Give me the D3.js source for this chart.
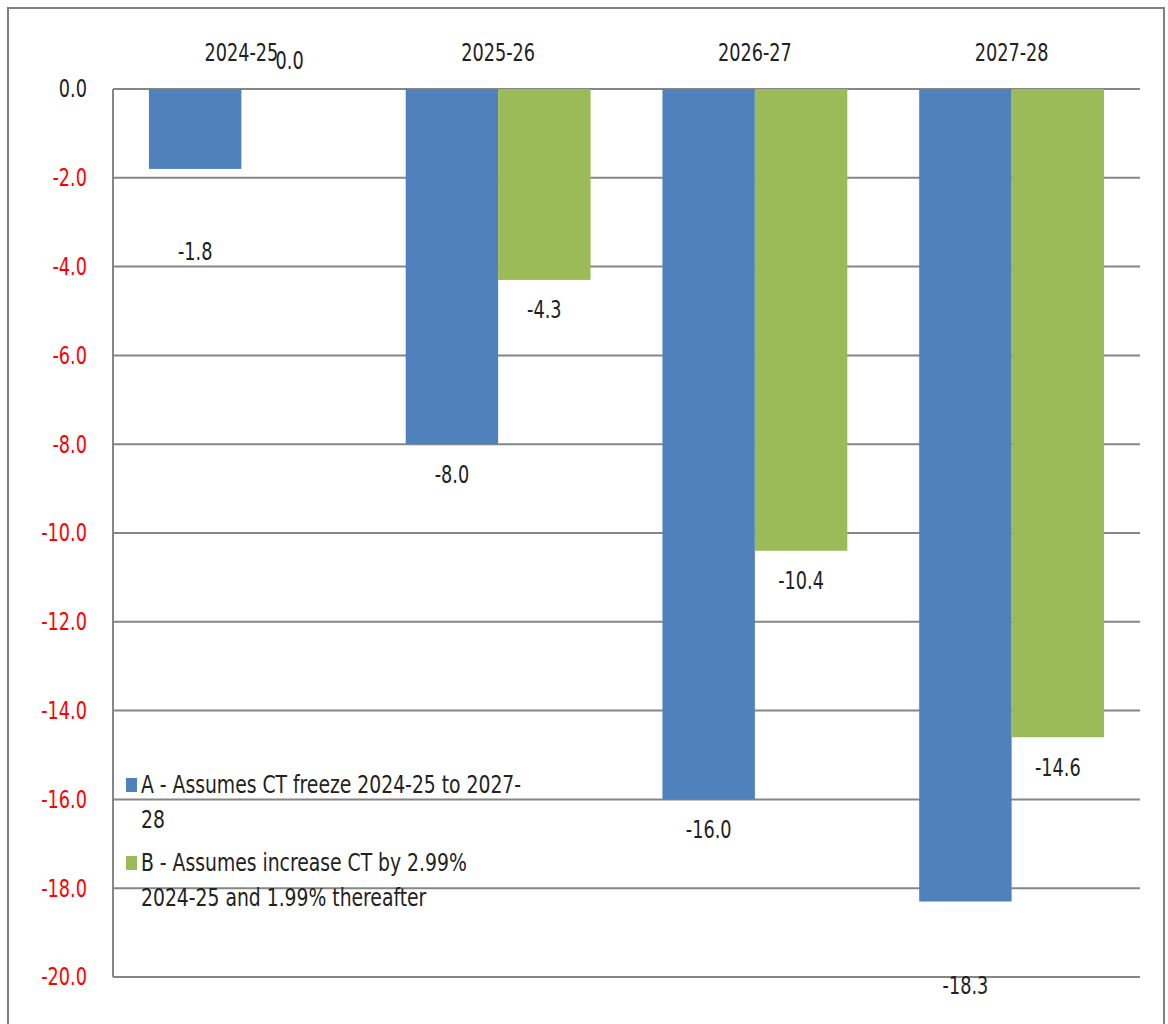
<!DOCTYPE html>
<html>
<head>
<meta charset="utf-8">
<script src="https://cdn.jsdelivr.net/npm/d3@7"></script>
<style>
  body { margin: 0; background: #fff; }
  svg text { font-family: "DejaVu Sans Condensed", "Liberation Sans", sans-serif; font-size: 24px; }
</style>
</head>
<body>
<div id="chart"></div>
<script>
const categories = ['2024-25', '2025-26', '2026-27', '2027-28'];
const seriesNames = [
  'A - Assumes CT freeze 2024-25 to 2027-28',
  'B - Assumes increase CT by 2.99% 2024-25 and 1.99% thereafter'
];
const seriesA = [-1.8, -8.0, -16.0, -18.3];
const seriesB = [0.0, -4.3, -10.4, -14.6];
const yTicks = [0, -2, -4, -6, -8, -10, -12, -14, -16, -18, -20];

const colors = ['#4f81bd', '#9bbb59'];
const width = 1168, height = 1024;
const margin = {top: 89, right: 28, bottom: 47, left: 113};
const squeeze = 0.82; // the original font is a narrow one
const fmt = v => d3.format('.1f')(v).replace('\u2212', '-');

const svg = d3.select('#chart').append('svg')
  .attr('width', width)
  .attr('height', height);

// outer frame
svg.append('rect')
  .attr('x', 8).attr('y', 8)
  .attr('width', 1156).attr('height', 1030)
  .attr('fill', 'none')
  .attr('stroke', '#808080')
  .attr('stroke-width', 2);

const x0 = d3.scaleBand()
  .domain(categories)
  .range([margin.left, width - margin.right]);

const x1 = d3.scaleBand()
  .domain([0, 1])
  .range([x0.bandwidth() * 0.14, x0.bandwidth() * 0.86]);

const y = d3.scaleLinear()
  .domain([-20, 0])
  .range([height - margin.bottom, margin.top]);

const place = (x, yy, sx) => 'translate(' + x + ',' + yy + ') scale(' + (sx || squeeze) + ',1)';

// gridlines
svg.append('g')
  .selectAll('line')
  .data(yTicks)
  .enter().append('line')
    .attr('x1', margin.left)
    .attr('x2', width - margin.right)
    .attr('y1', d => y(d))
    .attr('y2', d => y(d))
    .attr('stroke', '#868686')
    .attr('stroke-width', 2);

// y axis line
svg.append('line')
  .attr('x1', margin.left).attr('x2', margin.left)
  .attr('y1', y(0)).attr('y2', y(-20))
  .attr('stroke', '#868686')
  .attr('stroke-width', 2);

// y tick labels (0.0 black, negatives red)
svg.append('g')
  .selectAll('text')
  .data(yTicks)
  .enter().append('text')
    .attr('transform', d => place(87, y(d)))
    .attr('dy', '0.35em')
    .attr('text-anchor', 'end')
    .style('fill', d => d === 0 ? '#222' : '#ff0000')
    .text(d => fmt(d));

// category labels along the top
svg.append('g')
  .selectAll('text')
  .data(categories)
  .enter().append('text')
    .attr('transform', d => place(x0(d) + x0.bandwidth() / 2, 53))
    .attr('dy', '0.35em')
    .attr('text-anchor', 'middle')
    .style('fill', '#222')
    .text(d => d);

const rows = [];
categories.forEach((c, i) => {
  rows.push({cat: c, s: 0, v: seriesA[i]});
  rows.push({cat: c, s: 1, v: seriesB[i]});
});

svg.append('g')
  .selectAll('rect')
  .data(rows.filter(d => d.v !== 0))
  .enter().append('rect')
    .attr('x', d => x0(d.cat) + x1(d.s))
    .attr('y', y(0))
    .attr('width', x1.bandwidth())
    .attr('height', d => y(d.v) - y(0))
    .attr('fill', d => colors[d.s]);

// a couple of labels were dragged further down in the original
const labelNudge = {'2024-25|0': 53, '2027-28|0': 54};

svg.append('g')
  .selectAll('text')
  .data(rows)
  .enter().append('text')
    .attr('transform', d => place(
      x0(d.cat) + x1(d.s) + x1.bandwidth() / 2 + (d.v === 0 ? 2 : 0),
      (d.v < 0 ? y(d.v) + 30 : y(d.v) - 28) + (labelNudge[d.cat + '|' + d.s] || 0)))
    .attr('dy', '0.35em')
    .attr('text-anchor', 'middle')
    .style('fill', '#222')
    .text(d => fmt(d.v));

// legend, wrapped like the original
const legendLines = [
  ['A - Assumes CT freeze 2024-25 to 2027-', '28'],
  ['B - Assumes increase CT by 2.99%', '2024-25 and 1.99% thereafter']
];
const legend = svg.append('g').attr('transform', 'translate(126,785)');
legendLines.forEach((lines, i) => {
  const g = legend.append('g').attr('transform', 'translate(0,' + (i * 78) + ')');
  g.append('rect')
    .attr('x', 0).attr('y', -7)
    .attr('width', 11).attr('height', 14)
    .attr('fill', colors[i]);
  lines.forEach((t, j) => {
    g.append('text')
      .attr('transform', place(15, j * 35, 0.87))
      .attr('dy', '0.35em')
      .style('fill', '#222')
      .text(t);
  });
});
</script>
</body>
</html>
